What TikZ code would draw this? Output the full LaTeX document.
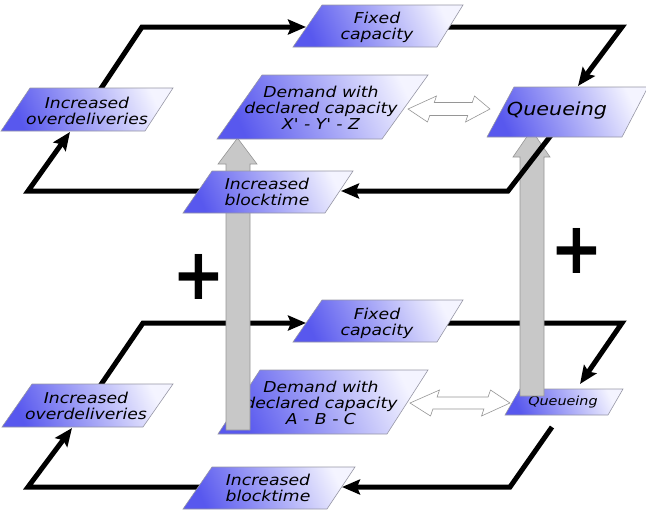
\documentclass[tikz,border=0pt]{standalone}
\usepackage{fontspec}
\setmainfont{DejaVu Sans}
\newfontfamily\boxfont{DejaVu Sans}[FakeStretch=1.15]
\usetikzlibrary{arrows.meta}
\definecolor{bdark}{RGB}{88,88,238}
\definecolor{blight}{RGB}{244,244,255}
\definecolor{bborder}{RGB}{150,150,165}
\definecolor{gfill}{RGB}{200,200,200}
\definecolor{gline}{RGB}{150,150,150}
\tikzset{
  slbox/.style={draw=bborder, line width=0.6pt, left color=bdark, right color=blight, shading angle=115},
  lbl/.style={font=\boxfont\itshape\fontsize{15}{16}\selectfont, align=center, inner sep=0pt, text=black},
  flow/.style={line width=5pt, -{Stealth[length=18pt,width=15pt,inset=3pt]}},
  grayarrow/.style={fill=gfill, draw=gline, line width=0.6pt},
  dblarrow/.style={fill=white, draw=gline, line width=0.6pt},
  plussign/.style={font=\bfseries\fontsize{63}{63}\selectfont, inner sep=0pt}
}
\begin{document}
\begin{tikzpicture}[x=1pt,y=-1pt]
\useasboundingbox (0,0) rectangle (646,512);

% ---------- lower loop connectors ----------
\coordinate (ovB-n) at (100,386);
\coordinate (fixB-w) at (306,323);
\coordinate (fixB-e) at (447,323);
\coordinate (qB-n) at (580,384);
\coordinate (qB-s) at (552,427);
\coordinate (btB-e) at (342,487);
\coordinate (btB-w) at (200,487);
\coordinate (ovB-s) at (72,428);
\draw[flow] (ovB-n) -- ++(43,-63) -- (fixB-w);
\draw[flow] (fixB-e) -- ++(175,0) -- (qB-n);
\draw[flow] (qB-s) -- ++(-42,60) -- (btB-e);
\draw[flow] (btB-w) -- ++(-172,0) -- (ovB-s);

% ---------- lower boxes ----------
\path[slbox] (293,342) -- (322,300) -- (463,300) -- (437,342) -- cycle;
\node[lbl] (fixB) at (377,323) {Fixed\\capacity};
\path[slbox] (2,427) -- (32,384) -- (173,384) -- (143,427) -- cycle;
\node[lbl] (ovB) at (86,406) {Increased\\overdeliveries};
\path[slbox] (218,434) -- (260,370) -- (428,370) -- (387,434) -- cycle;
\node[lbl] (demB) at (321,403) {Demand with\\declared capacity\\A - B - C};
\path[slbox] (505,415) -- (520,389) -- (623,389) -- (608,415) -- cycle;
\node[lbl, font=\boxfont\itshape\fontsize{12.5}{13}\selectfont] (qB) at (563,402) {Queueing};
\path[slbox] (183,509) -- (212,467) -- (355,467) -- (327,509) -- cycle;
\node[lbl] (btB) at (268,488) {Increased\\blocktime};

% lower double arrow
\coordinate (dblB) at (410,403);
\draw[dblarrow] (dblB) -- (439.5,390) -- (437.1,397) -- (488.1,397) -- (490.5,390)
  -- (510,403) -- (481.5,416) -- (483.9,409) -- (432.9,409) -- (430.5,416) -- cycle;

% ---------- gray arrows ----------
\coordinate (gL-s) at (238,430);
\coordinate (gL-t) at (237.5,138);
\draw[grayarrow] (gL-s) -- ++(-12,0) -- (226,164) -- (218,164) -- (gL-t)
  -- (257,164) -- (250,164) -- (250,430) -- cycle;
\coordinate (gR-s) at (532,396);
\coordinate (gR-t) at (531.5,130);
\draw[grayarrow] (gR-s) -- ++(-12,0) -- (520,157) -- (513,157) -- (gR-t)
  -- (550,157) -- (544,157) -- (544,396) -- cycle;

% ---------- upper loop connectors ----------
\coordinate (ovA-n) at (100,90);
\coordinate (fixA-w) at (306,27);
\coordinate (fixA-e) at (447,27);
\coordinate (qA-n) at (578,86);
\coordinate (qA-s) at (552,134);
\coordinate (btA-e) at (341,191);
\coordinate (btA-w) at (200,191);
\coordinate (ovA-s) at (70,132);
\draw[flow] (ovA-n) -- ++(42,-63) -- (fixA-w);
\draw[flow] (fixA-e) -- ++(175,0) -- (qA-n);
\draw[flow] (qA-s) -- ++(-44,57) -- (btA-e);
\draw[flow] (btA-w) -- ++(-172,0) -- (ovA-s);

% ---------- upper boxes ----------
\path[slbox] (293,47) -- (322,5) -- (463,5) -- (437,47) -- cycle;
\node[lbl] (fixA) at (377,27) {Fixed\\capacity};
\path[slbox] (1,131) -- (30,88) -- (173,88) -- (145,131) -- cycle;
\node[lbl] (ovA) at (87,111) {Increased\\overdeliveries};
\path[slbox] (217,139) -- (262,75) -- (428,75) -- (382,139) -- cycle;
\node[lbl] (demA) at (321,108) {Demand with\\declared capacity\\X' - Y' - Z};
\path[slbox] (487,137) -- (514,87) -- (648,87) -- (622,137) -- cycle;
\node[lbl, font=\boxfont\itshape\fontsize{18}{19}\selectfont] (qA) at (557,111) {Queueing};
\path[slbox] (183,213) -- (212,171) -- (353,171) -- (325,213) -- cycle;
\node[lbl] (btA) at (267,192) {Increased\\blocktime};

% upper double arrow
\coordinate (dblA) at (408,109);
\draw[dblarrow] (dblA) -- (436.5,96) -- (434.3,102.5) -- (472.3,102.5) -- (474.5,96)
  -- (490,109) -- (465.5,122) -- (467.7,115.5) -- (429.7,115.5) -- (427.5,122) -- cycle;

% ---------- plus signs ----------
\node[plussign] (plusL) at (199,277) {\scalebox{1}[1.14]{+}};
\node[plussign] (plusR) at (577,251) {\scalebox{1}[1.14]{+}};
\end{tikzpicture}
\end{document}
